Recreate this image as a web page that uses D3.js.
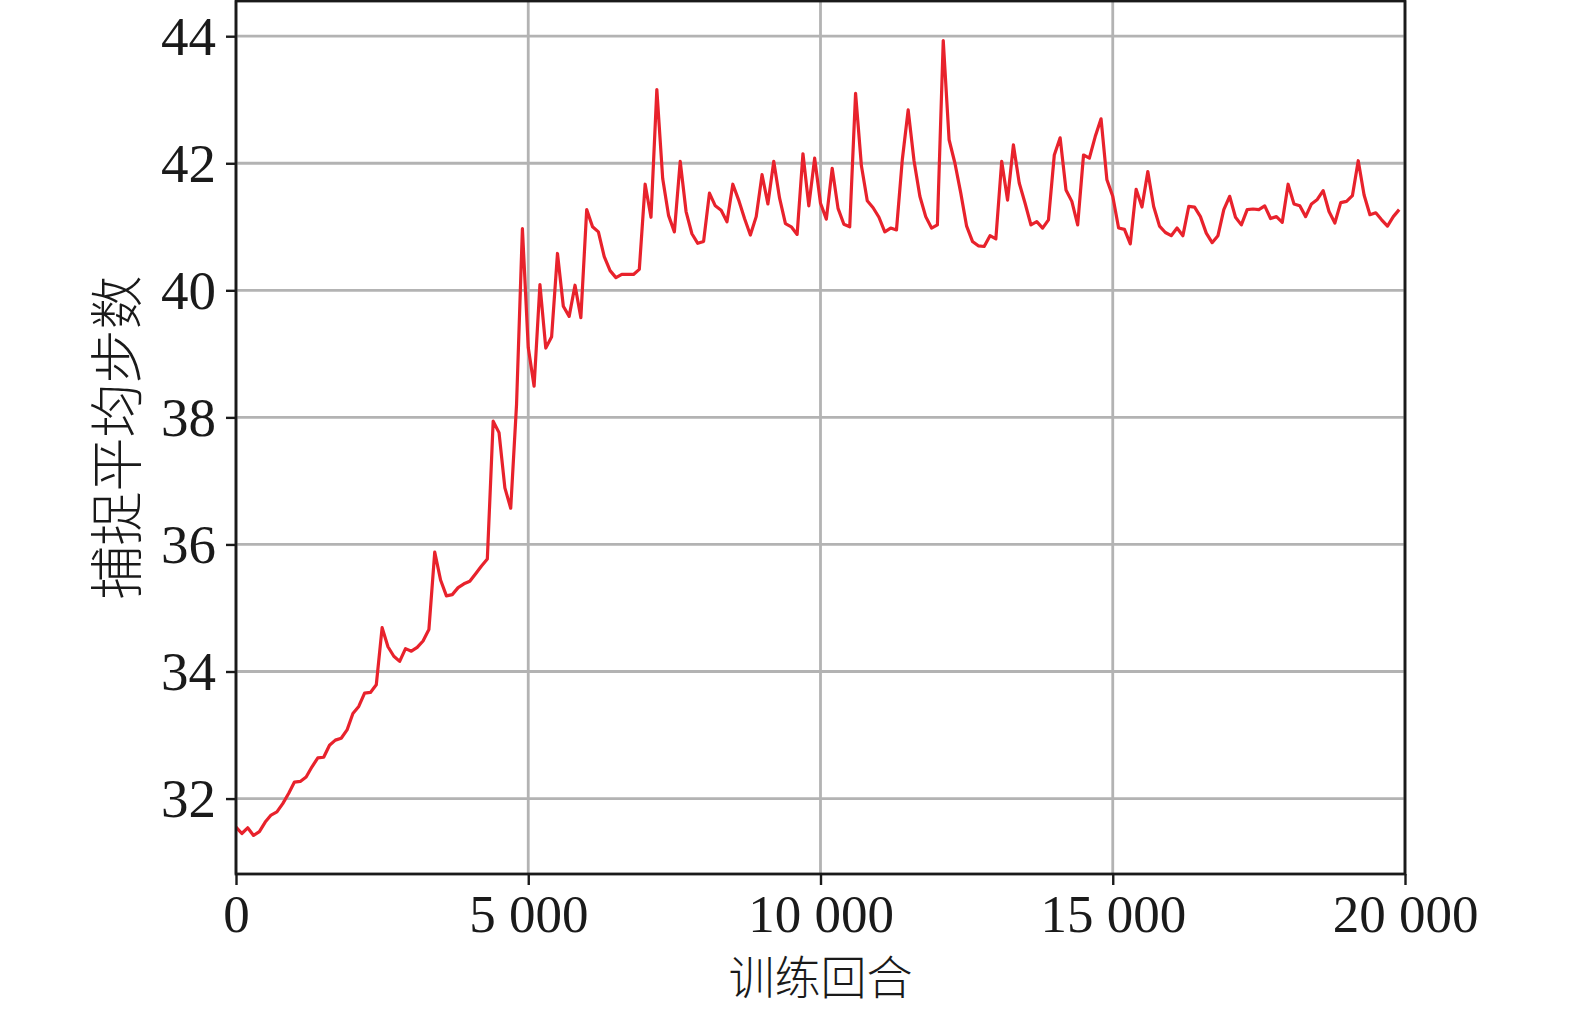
<!DOCTYPE html>
<html><head><meta charset="utf-8">
<script src="https://cdn.jsdelivr.net/npm/d3@7"></script>
<style>html,body{margin:0;padding:0;background:#fff;}svg{display:block;}</style>
</head><body>
<script>
const episodes = [
0,100,200,300,400,500,600,700,800,900,1000,1100,1200,1300,1400,1500,1600,1700,1800,1900,
2000,2100,2200,2300,2400,2500,2600,2700,2800,2900,3000,3100,3200,3300,3400,3500,3600,3700,3800,3900,
4000,4100,4200,4300,4400,4500,4600,4700,4800,4900,5000,5100,5200,5300,5400,5500,5600,5700,5800,5900,
6000,6100,6200,6300,6400,6500,6600,6700,6800,6900,7000,7100,7200,7300,7400,7500,7600,7700,7800,7900,
8000,8100,8200,8300,8400,8500,8600,8700,8800,8900,9000,9100,9200,9300,9400,9500,9600,9700,9800,9900,
10000,10100,10200,10300,10400,10500,10600,10700,10800,10900,11000,11100,11200,11300,11400,11500,11600,11700,11800,11900,
12000,12100,12200,12300,12400,12500,12600,12700,12800,12900,13000,13100,13200,13300,13400,13500,13600,13700,13800,13900,
14000,14100,14200,14300,14400,14500,14600,14700,14800,14900,15000,15100,15200,15300,15400,15500,15600,15700,15800,15900,
16000,16100,16200,16300,16400,16500,16600,16700,16800,16900,17000,17100,17200,17300,17400,17500,17600,17700,17800,17900,
18000,18100,18200,18300,18400,18500,18600,18700,18800,18900,19000,19100,19200,19300,19400,19500,19600,19700,19800,19900];
const avgSteps = [
31.55,31.45,31.54,31.42,31.48,31.63,31.74,31.79,31.92,32.08,32.26,32.27,32.34,32.50,32.64,32.65,32.84,32.92,32.95,33.08,
33.34,33.45,33.66,33.67,33.79,34.69,34.39,34.24,34.16,34.36,34.32,34.38,34.48,34.66,35.88,35.44,35.19,35.21,35.32,35.38,
35.42,35.54,35.66,35.77,37.94,37.76,36.89,36.57,38.21,40.97,39.10,38.49,40.09,39.09,39.27,40.58,39.75,39.59,40.08,39.57,
41.27,41.00,40.92,40.53,40.31,40.20,40.25,40.25,40.25,40.33,41.67,41.15,43.16,41.76,41.18,40.92,42.03,41.24,40.89,40.74,
40.77,41.53,41.33,41.26,41.08,41.67,41.42,41.13,40.87,41.16,41.82,41.36,42.03,41.45,41.05,41.00,40.88,42.15,41.33,42.08,
41.37,41.12,41.92,41.29,41.04,41.00,43.10,41.96,41.41,41.30,41.15,40.92,40.98,40.95,42.06,42.84,42.04,41.48,41.16,40.98,
41.03,43.93,42.37,42.00,41.53,41.01,40.77,40.70,40.69,40.86,40.81,42.03,41.42,42.29,41.69,41.37,41.03,41.08,40.98,41.11,
42.13,42.40,41.58,41.40,41.03,42.13,42.08,42.42,42.70,41.74,41.48,40.98,40.96,40.73,41.59,41.31,41.87,41.32,41.01,40.91,
40.86,40.98,40.86,41.32,41.31,41.16,40.90,40.75,40.86,41.27,41.48,41.15,41.03,41.27,41.28,41.27,41.33,41.13,41.16,41.07,
41.67,41.36,41.33,41.16,41.36,41.43,41.57,41.24,41.06,41.38,41.40,41.49,42.04,41.50,41.19,41.22,41.11,41.01,41.16,41.27];
const xTicks = [0,5000,10000,15000,20000];
const xTickLabels = ["0","5 000","10 000","15 000","20 000"];
const yTicks = [32,34,36,38,40,42,44];
const xTitle = "训练回合";
const yTitle = "捕捉平均步数";

const W = 1575, H = 1011;
const L = 236, R = 1405, T = 1, B = 874;
const svg = d3.select("body").append("svg").attr("width", W).attr("height", H);

const x = d3.scaleLinear().domain([0, 20000]).range([L, R]);
const yPx = 63.53;
const y = d3.scaleLinear().domain([44 - (B - 36.2) / yPx, 44 + (36.2 - T) / yPx]).range([B, T]);

const grid = "#b3b3b3";
svg.append("g").selectAll("line").data(xTicks).join("line")
  .attr("x1", d => x(d)).attr("x2", d => x(d)).attr("y1", T).attr("y2", B)
  .attr("stroke", grid).attr("stroke-width", 2.8);
svg.append("g").selectAll("line").data(yTicks).join("line")
  .attr("x1", L).attr("x2", R).attr("y1", d => y(d)).attr("y2", d => y(d))
  .attr("stroke", grid).attr("stroke-width", 2.8);

const line = d3.line().x((d, i) => x(episodes[i])).y(d => y(d));
svg.append("path").datum(avgSteps).attr("d", line)
  .attr("fill", "none").attr("stroke", "#e8222c").attr("stroke-width", 3.2)
  .attr("stroke-linejoin", "round");

const font = "'Liberation Serif', 'DejaVu Serif', serif";
const xAxis = d3.axisBottom(x).tickValues(xTicks).tickFormat((d, i) => xTickLabels[i]).tickSize(11).tickPadding(10);
const gx = svg.append("g").attr("transform", `translate(0,${B})`).call(xAxis);
gx.select(".domain").remove();
gx.selectAll(".tick line").attr("stroke", "#1a1a1a").attr("stroke-width", 2.4);
gx.selectAll(".tick text").attr("font-family", font).attr("font-size", 53).attr("fill", "#1a1a1a")
  .attr("dy", "0").attr("y", 0).attr("transform", "translate(0,58)");

const yAxis = d3.axisLeft(y).tickValues(yTicks).tickFormat(d3.format("d")).tickSize(10).tickPadding(10);
const gy = svg.append("g").attr("transform", `translate(${L},0)`).call(yAxis);
gy.select(".domain").remove();
gy.selectAll(".tick line").attr("stroke", "#1a1a1a").attr("stroke-width", 2.4);
gy.selectAll(".tick text").attr("font-family", font).attr("font-size", 55).attr("fill", "#1a1a1a")
  .attr("dy", "0.33em");

svg.append("rect").attr("x", L).attr("y", T).attr("width", R - L).attr("height", B - T)
  .attr("fill", "none").attr("stroke", "#1a1a1a").attr("stroke-width", 2.8);

const cjk = "'Noto Sans CJK SC', sans-serif";
svg.append("text").attr("x", (L + R) / 2).attr("y", 978).attr("dy", "0.35em")
  .attr("text-anchor", "middle").attr("font-family", cjk).attr("font-size", 46)
  .attr("font-weight", 300).attr("fill", "#1a1a1a").text(xTitle);
svg.append("text").attr("transform", `translate(118,${(T + B) / 2}) rotate(-90)`)
  .attr("dy", "0.35em").attr("text-anchor", "middle").attr("font-family", cjk).attr("font-size", 54)
  .attr("font-weight", 300).attr("fill", "#1a1a1a").text(yTitle);
</script>
</body></html>
